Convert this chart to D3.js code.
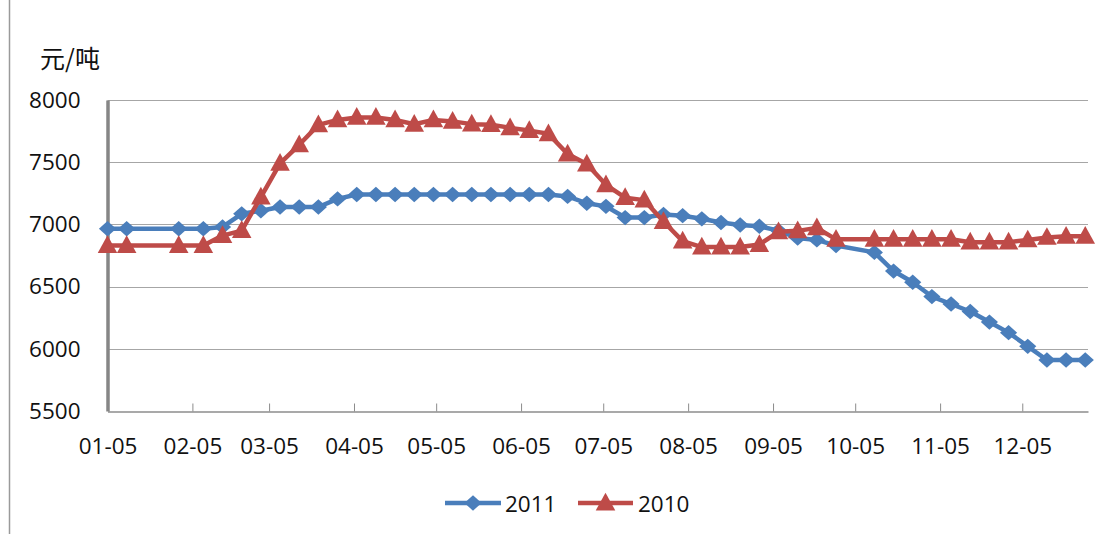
<!DOCTYPE html>
<html>
<head>
<meta charset="utf-8">
<script src="https://cdn.jsdelivr.net/npm/d3@7"></script>
<style>
  html, body { margin: 0; padding: 0; background: #ffffff; }
  svg { display: block; }
</style>
</head>
<body>
<svg id="chart" width="1105" height="534"></svg>
<script>
// ---- data ----
const dates = [
  "2011-01-05","2011-01-12","2011-01-31","2011-02-09","2011-02-16","2011-02-23",
  "2011-03-02","2011-03-09","2011-03-16","2011-03-23","2011-03-30","2011-04-06",
  "2011-04-13","2011-04-20","2011-04-27","2011-05-04","2011-05-11","2011-05-18",
  "2011-05-25","2011-06-01","2011-06-08","2011-06-15","2011-06-22","2011-06-29",
  "2011-07-06","2011-07-13","2011-07-20","2011-07-27","2011-08-03","2011-08-10",
  "2011-08-17","2011-08-24","2011-08-31","2011-09-07","2011-09-14","2011-09-21",
  "2011-09-28","2011-10-12","2011-10-19","2011-10-26","2011-11-02","2011-11-09",
  "2011-11-16","2011-11-23","2011-11-30","2011-12-07","2011-12-14","2011-12-21",
  "2011-12-28"
];
const series2011 = [
  6965, 6965, 6965, 6965, 6980, 7085,
  7110, 7140, 7140, 7140, 7205, 7240,
  7240, 7240, 7240, 7240, 7240, 7240,
  7240, 7240, 7240, 7240, 7225, 7170,
  7145, 7055, 7055, 7080, 7070, 7045,
  7015, 6995, 6985, 6950, 6890, 6875,
  6830, 6775, 6625, 6535, 6420, 6360,
  6300, 6215, 6130, 6020, 5910, 5910,
  5910
];
const series2010 = [
  6830, 6830, 6830, 6830, 6910, 6950,
  7220, 7490, 7640, 7800, 7840, 7860,
  7860, 7840, 7805, 7840, 7828, 7806,
  7802, 7776, 7754, 7728, 7566, 7485,
  7318, 7215, 7195, 7023, 6866, 6818,
  6818, 6818, 6838, 6940, 6948, 6972,
  6880, 6880, 6880, 6880, 6880, 6880,
  6857, 6857, 6857, 6875, 6895, 6905,
  6905
];
const xTickLabels = ["01-05","02-05","03-05","04-05","05-05","06-05","07-05","08-05","09-05","10-05","11-05","12-05"];
const yTicks = [5500, 6000, 6500, 7000, 7500, 8000];
const seriesNames = ["2011", "2010"];
const seriesColors = ["#4a7ebb", "#be4b48"];
const yUnit = "元/吨";
const xDomain = ["2011-01-05", "2011-12-29"];

// ---- chart ----
(function () {
const parse = d3.utcParse("%Y-%m-%d");
const parseTick = s => parse("2011-" + s);
const svg = d3.select("#chart");
const font = "'Open Sans', 'Liberation Sans', sans-serif";
const fs = 22.5;

const pLeft = 107.5, pRight = 1088, pTop = 100, pBottom = 411;
const x = d3.scaleUtc().domain(xDomain.map(parse)).range([pLeft, pRight]);
const y = d3.scaleLinear().domain([5500, 8000]).range([pBottom, pTop]);

// outer frame (left edge visible)
svg.append("line").attr("x1", 9.5).attr("x2", 9.5).attr("y1", 0).attr("y2", 534)
  .attr("stroke", "#9a9a9a").attr("stroke-width", 1.5);

// gridlines
svg.append("g").selectAll("line").data(yTicks.filter(v => v > 5500)).join("line")
  .attr("x1", pLeft).attr("x2", pRight)
  .attr("y1", d => Math.round(y(d)) + 0.5).attr("y2", d => Math.round(y(d)) + 0.5)
  .attr("stroke", "#a6a6a6").attr("stroke-width", 1.2);

// x axis
const xAxis = d3.axisBottom(x)
  .tickValues(xTickLabels.map(parseTick))
  .tickFormat(d3.utcFormat("%m-%d"))
  .tickSizeInner(-8).tickSizeOuter(0).tickPadding(24);
const gx = svg.append("g").attr("transform", `translate(0,${pBottom + 0.5})`).call(xAxis);
gx.select(".domain").attr("stroke", "#8c8c8c").attr("stroke-width", 1.5);
gx.selectAll(".tick line").attr("stroke", "#8c8c8c");
gx.selectAll(".tick").filter((d, i) => i === 0).select("line").remove();
gx.selectAll("text").attr("font-family", font).attr("font-size", fs).attr("fill", "#111")
  .attr("dy", "0.35em").attr("y", 35);

// y axis
const yAxis = d3.axisLeft(y).tickValues(yTicks).tickFormat(d3.format("d"))
  .tickSize(0).tickPadding(27);
const gy = svg.append("g").attr("transform", `translate(${pLeft},0)`).call(yAxis);
gy.select(".domain").attr("stroke", "#868686").attr("stroke-width", 3.5);
gy.selectAll("text").attr("font-family", font).attr("font-size", fs).attr("fill", "#111");

// unit label
svg.append("text").attr("x", 70).attr("y", 57).attr("text-anchor", "middle")
  .attr("dominant-baseline", "central")
  .attr("font-family", "'Noto Sans CJK SC', sans-serif").attr("font-size", 25)
  .attr("fill", "#111").text(yUnit);

// series
const data = [series2011, series2010];
const diamond = d3.symbol().type(d3.symbolDiamond2).size(150);
const tri = d3.symbol().type(d3.symbolTriangle).size(150);
const line = d3.line().x((d, i) => x(parse(dates[i]))).y(d => y(d));
const markT = (s, cx, cy) => s === 0
  ? `translate(${cx},${cy}) scale(1.12,1)`
  : `translate(${cx},${cy + 1.5}) scale(1.05,1.1)`;

data.forEach((vals, s) => {
  const g = svg.append("g");
  g.append("path").datum(vals).attr("d", line).attr("fill", "none")
    .attr("stroke", seriesColors[s]).attr("stroke-width", 4.5).attr("stroke-linejoin", "round");
  g.selectAll("path.m").data(vals).join("path").attr("class", "m")
    .attr("transform", (d, i) => markT(s, x(parse(dates[i])), y(d)))
    .attr("d", s === 0 ? diamond : tri)
    .attr("fill", seriesColors[s]);
});

// legend
const legendItems = [
  { x0: 445, x1: 501, tx: 505 },
  { x0: 578, x1: 633, tx: 638 }
];
legendItems.forEach((it, s) => {
  const g = svg.append("g");
  const ly = 503;
  g.append("line").attr("x1", it.x0).attr("x2", it.x1).attr("y1", ly).attr("y2", ly)
    .attr("stroke", seriesColors[s]).attr("stroke-width", 4.5);
  g.append("path").attr("transform", markT(s, (it.x0 + it.x1) / 2, ly))
    .attr("d", s === 0 ? diamond : tri).attr("fill", seriesColors[s]);
  g.append("text").attr("x", it.tx).attr("y", ly).attr("dominant-baseline", "central")
    .attr("font-family", font).attr("font-size", fs).attr("fill", "#111").text(seriesNames[s]);
});
})();
</script>
</body>
</html>
